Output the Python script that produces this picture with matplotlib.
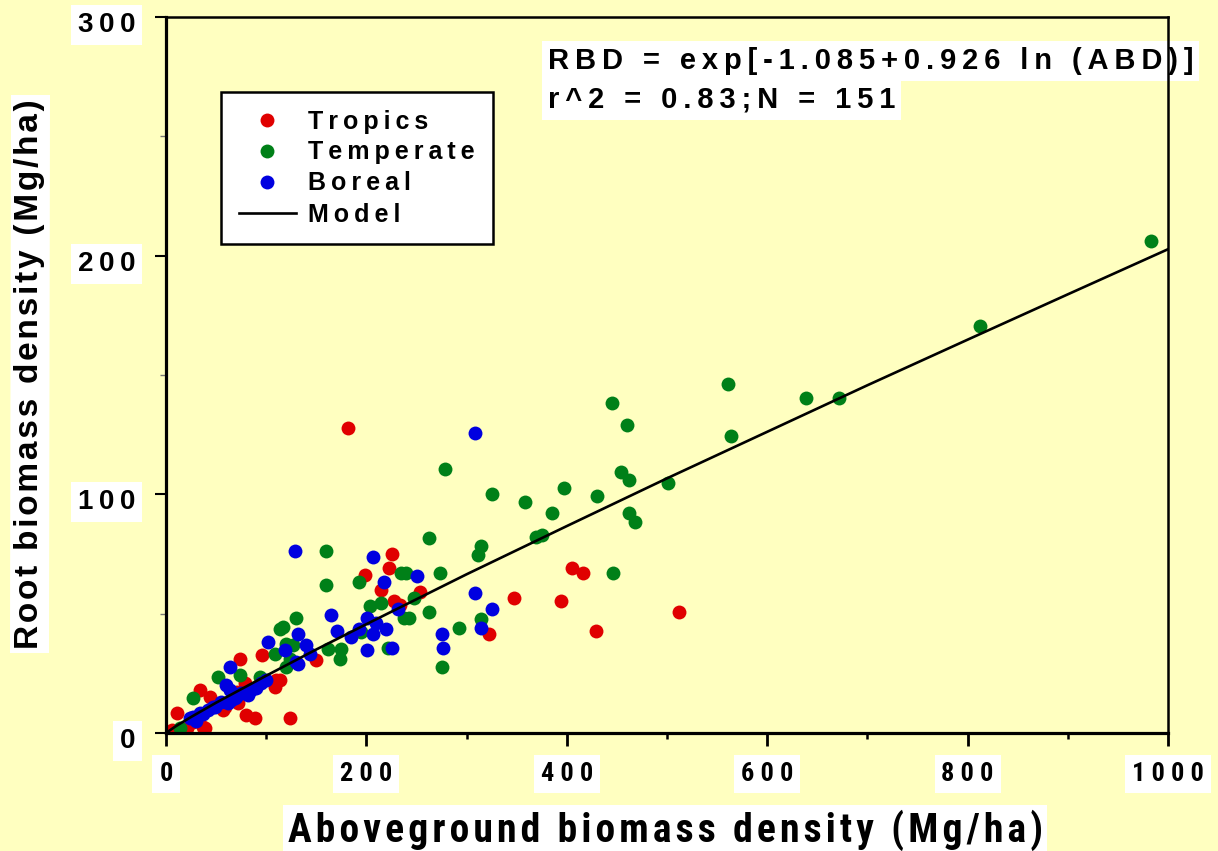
import matplotlib
matplotlib.use('Agg')
import matplotlib.pyplot as plt
from matplotlib.lines import Line2D
from matplotlib.transforms import ScaledTranslation

# ---- data (Mg/ha) ----
tropics_abd = [182, 226, 223, 199, 215, 228, 234, 253, 347, 394, 405, 416, 429, 512, 322,
               150, 114, 96, 74, 110, 109, 79, 71, 34, 44, 72, 57, 80, 89, 124, 11, 27,
               37, 39, 21, 6, 59]
tropics_rbd = [128, 75, 69, 66, 60, 55.5, 53.6, 59, 56.5, 55.4, 69.2, 67, 42.7, 50.8, 41.5,
               30.5, 22, 32.6, 31.2, 22.1, 19.3, 20.8, 17.2, 18, 15.2, 12.4, 9.6, 7.5, 6.1,
               6.1, 8.2, 4.7, 2.6, 2, 2, 1.3, 11]

temperate_abd = [983, 812, 561, 564, 639, 672, 445, 460, 454, 462, 501, 430, 397, 385, 462,
                 468, 358, 325, 278, 369, 375, 314, 311, 446, 273, 292, 314, 262, 160, 235,
                 240, 193, 160, 248, 204, 215, 262, 238, 243, 130, 114, 195, 222, 120, 127,
                 162, 175, 174, 120, 275, 117, 109, 124, 74, 52, 94, 27, 14]
temperate_rbd = [206, 170.4, 146.3, 124.4, 140.4, 140.4, 138.2, 129, 109.5, 106.1, 104.8, 99.1,
                 102.6, 92.1, 92.1, 88.6, 96.9, 100.2, 110.6, 82, 83.1, 78.5, 74.7, 66.9, 67.2,
                 43.8, 47.6, 81.8, 76.1, 66.9, 66.9, 63.3, 62.2, 56.7, 53.4, 54.4, 50.6, 48.3,
                 48.3, 48.3, 43.7, 42.3, 35.8, 37.5, 36.7, 35.4, 35.4, 31.2, 27.7, 27.7, 44.4,
                 33.3, 31.2, 24.2, 23.3, 23.5, 14.5, 2]

boreal_abd = [308, 308, 325, 314, 275, 276, 129, 207, 250, 218, 232, 165, 132, 171, 201,
              193, 185, 210, 207, 220, 201, 226, 119, 140, 144, 132, 102, 130, 64, 60,
              64, 90, 75, 82, 65, 62, 49, 42, 34, 27, 24, 55, 70, 85, 95, 100, 37, 30, 69, 47]
boreal_rbd = [125.6, 58.7, 51.9, 43.8, 41.6, 35.8, 76.1, 73.8, 65.7, 63.3, 52.1, 49.5, 41.5,
              42.7, 48.3, 43.7, 40.2, 46.1, 41.5, 43.7, 34.7, 35.8, 34.9, 36.7, 33, 29.1, 38.1,
              29.8, 27.7, 20, 18, 18.7, 16.6, 15.9, 13.8, 12.4, 11, 9.6, 8.2, 6.8, 6.1, 13,
              15, 18, 21, 22, 8, 5, 14.5, 11]

# model curve RBD = exp[-1.085 + 0.926 ln(ABD)]
model_abd = [0, 10, 25, 50, 100, 150, 200, 300, 400, 500, 600, 700, 800, 900, 1000]
model_rbd = [0, 2.9, 6.7, 12.7, 24.0, 35.0, 45.6, 66.5, 86.7, 106.7, 126.2, 145.7, 164.8,
             183.8, 202.7]

x_major = [0, 200, 400, 600, 800, 1000]
x_minor = [100, 300, 500, 700, 900]
y_major = [0, 100, 200, 300]
y_minor = [50, 150, 250]

bg = '#FFFFC0'
W, H = 1218, 851
narrow = ['Roboto Condensed', 'Liberation Sans', 'DejaVu Sans']
arial = ['Liberation Sans', 'DejaVu Sans']


def sp(s, gap='\u2009'):
    return gap.join(s)


fig = plt.figure(figsize=(W / 100, H / 100), dpi=100, facecolor=bg)
ax = fig.add_axes([166 / W, 1 - 733 / H, (1168 - 166) / W, (733 - 17) / H])
ax.set_facecolor(bg)

ms = 10
ax.plot(tropics_abd, tropics_rbd, 'o', color='#E00000', ms=ms, mew=0, zorder=3)
ax.plot(temperate_abd, temperate_rbd, 'o', color='#008018', ms=ms, mew=0, zorder=3)
ax.plot(boreal_abd, boreal_rbd, 'o', color='#0000E0', ms=ms, mew=0, zorder=3)
ax.plot(model_abd, model_rbd, color='black', lw=1.9, zorder=4)

ax.set_xlim(0, 1000)
ax.set_ylim(0, 300)
for s in ax.spines.values():
    s.set_linewidth(1.8)
    s.set_zorder(6)
ax.spines['left'].set_linewidth(2.3)
ax.spines['bottom'].set_linewidth(2.3)

ax.set_xticks(x_major)
ax.set_xticks(x_minor, minor=True)
ax.set_yticks(y_major)
ax.set_yticks(y_minor, minor=True)
ax.set_xticklabels([sp(str(v), ' ') for v in x_major], fontfamily=narrow,
                   fontweight='bold', fontsize=19)
ax.set_yticklabels([sp(str(v)) for v in y_major], fontfamily=arial,
                   fontweight='bold', fontsize=20)
ax.tick_params(axis='x', which='major', direction='out', length=9, width=2, pad=12)
ax.tick_params(axis='x', which='minor', direction='out', length=4.5, width=1.8)
ax.tick_params(axis='y', which='major', direction='out', length=8, width=1.5, pad=14)
ax.tick_params(axis='y', which='minor', direction='out', length=4, width=1, color='#777777')
for lbl in ax.get_xticklabels() + ax.get_yticklabels():
    lbl.set_bbox(dict(facecolor='white', edgecolor='none', pad=5))
# the y labels sit a few pixels below their ticks in the original
shift = ScaledTranslation(0, -5 / 100, fig.dpi_scale_trans)
for lbl in ax.get_yticklabels():
    lbl.set_transform(lbl.get_transform() + shift)

fig.text(665 / W, 1 - 830 / H, sp('Aboveground biomass density (Mg/ha)', '\u200a'),
         ha='center', va='center', fontfamily=narrow, fontweight='bold', fontsize=28.5,
         bbox=dict(facecolor='white', edgecolor='none', pad=3))
fig.text(30 / W, 1 - 374 / H, sp('Root biomass density (Mg/ha)', '\u200a'), ha='center',
         va='center', rotation=90, fontfamily=arial, fontweight='bold', fontsize=24,
         bbox=dict(facecolor='white', edgecolor='none', pad=3))

ax.text(548 / W, 1 - 61 / H, sp('RBD = exp[-1.085+0.926 ln (ABD)]'), transform=fig.transFigure,
        ha='left', va='center', fontfamily=arial, fontweight='bold', fontsize=21,
        bbox=dict(facecolor='white', edgecolor='none', pad=4), zorder=2, clip_on=False)
ax.text(548 / W, 1 - 100 / H, sp('r^2 = 0.83;N = 151'), transform=fig.transFigure,
        ha='left', va='center', fontfamily=arial, fontweight='bold', fontsize=21,
        bbox=dict(facecolor='white', edgecolor='none', pad=4), zorder=2, clip_on=False)

handles = [
    Line2D([], [], ls='none', marker='o', color='#E00000', ms=ms, mew=0),
    Line2D([], [], ls='none', marker='o', color='#008018', ms=ms, mew=0),
    Line2D([], [], ls='none', marker='o', color='#0000E0', ms=ms, mew=0),
    Line2D([], [], color='black', lw=1.9),
]
labels = [sp('Tropics'), sp('Temperate'), sp('Boreal'), sp('Model')]
leg = ax.legend(handles, labels, loc='upper left', bbox_to_anchor=(221 / W, 1 - 92 / H),
                bbox_transform=fig.transFigure, borderaxespad=0, fancybox=False,
                framealpha=1, facecolor='white', edgecolor='black',
                prop=dict(family=arial, weight='bold', size=18),
                handlelength=2.3, handletextpad=0.5, labelspacing=0.28, borderpad=0.7)
leg.get_frame().set_linewidth(1.8)

fig.savefig('out.png', dpi=100, facecolor=bg)
